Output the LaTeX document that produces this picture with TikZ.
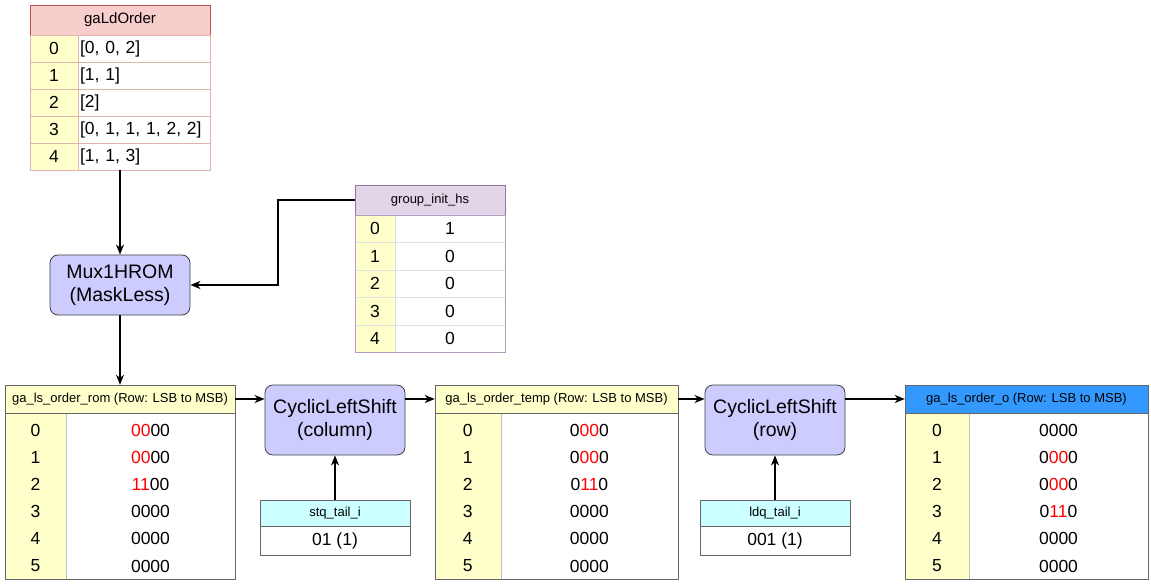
\documentclass[tikz,border=0pt]{standalone}
\usepackage{fontspec}
\setmainfont{Liberation Sans}
\usetikzlibrary{arrows.meta}
\definecolor{hdrpink}{HTML}{F8CECC}
\definecolor{linepink}{HTML}{B85450}
\definecolor{hdrlilac}{HTML}{E1D5E7}
\definecolor{linelilac}{HTML}{9673A6}
\definecolor{idxyellow}{HTML}{FFFFCC}
\definecolor{hdrcyan}{HTML}{CCFFFF}
\definecolor{hdrblue}{HTML}{3399FF}
\definecolor{blkfill}{HTML}{CCCCFF}
\def\bodyfont{\fontsize{17.5}{20}\selectfont}
\def\hdrfont{\fontsize{13}{15}\selectfont}
\def\blkfont{\fontsize{19.5}{23}\selectfont}
\def\rd#1{\textcolor{red}{#1}}
\tikzset{
  cell/.style={rectangle, inner sep=0pt, font=\bodyfont},
  hdr/.style={rectangle, inner sep=0pt, font=\hdrfont, draw=black!60},
  blk/.style={rectangle, rounded corners=8pt, fill=blkfill, draw=black!75, line width=0.8pt,
    minimum width=140pt, align=center, font=\blkfont},
  arr/.style={line width=1.3pt, -{Stealth[length=10pt, width=8pt, inset=3pt]}}
}

\begin{document}
\begin{tikzpicture}[x=1pt, y=-1pt]
			%%%%% START %%%%%
			\useasboundingbox (0, 0) rectangle (1151, 585);

			% gaLdOrder
			\node[hdr, fill=hdrpink, draw=linepink, minimum width=180pt, minimum height=30pt, font=\fontsize{15}{17}\selectfont] (galh) at (120, 20) {gaLdOrder};
			\node[cell, fill=idxyellow, draw=linepink!45, minimum width=48pt, minimum height=27pt] (gal0i) at (54, 48.5) {0};
			\node[cell, draw=linepink!45, minimum height=27pt, text width=128pt, inner xsep=2pt, align=left] (gal0v) at (144, 48.5) {[0, 0, 2]};
			\node[cell, fill=idxyellow, draw=linepink!45, minimum width=48pt, minimum height=27pt] (gal1i) at (54, 75.5) {1};
			\node[cell, draw=linepink!45, minimum height=27pt, text width=128pt, inner xsep=2pt, align=left] (gal1v) at (144, 75.5) {[1, 1]};
			\node[cell, fill=idxyellow, draw=linepink!45, minimum width=48pt, minimum height=27pt] (gal2i) at (54, 102.5) {2};
			\node[cell, draw=linepink!45, minimum height=27pt, text width=128pt, inner xsep=2pt, align=left] (gal2v) at (144, 102.5) {[2]};
			\node[cell, fill=idxyellow, draw=linepink!45, minimum width=48pt, minimum height=27pt] (gal3i) at (54, 129.5) {3};
			\node[cell, draw=linepink!45, minimum height=27pt, text width=128pt, inner xsep=2pt, align=left] (gal3v) at (144, 129.5) {[0, 1, 1, 1, 2, 2]};
			\node[cell, fill=idxyellow, draw=linepink!45, minimum width=48pt, minimum height=27pt] (gal4i) at (54, 156.5) {4};
			\node[cell, draw=linepink!45, minimum height=27pt, text width=128pt, inner xsep=2pt, align=left] (gal4v) at (144, 156.5) {[1, 1, 3]};

			% group_init_hs
			\node[hdr, fill=hdrlilac, draw=linelilac, minimum width=150pt, minimum height=30pt] (gih) at (430, 200) {group\_init\_hs};
			\node[cell, fill=idxyellow, draw=black!12, minimum width=40pt, minimum height=27.5pt] (gih0i) at (375, 228.75) {0};
			\node[cell, draw=black!12, minimum width=110pt, minimum height=27.5pt] (gih0v) at (450, 228.75) {1};
			\node[cell, fill=idxyellow, draw=black!12, minimum width=40pt, minimum height=27.5pt] (gih1i) at (375, 256.25) {1};
			\node[cell, draw=black!12, minimum width=110pt, minimum height=27.5pt] (gih1v) at (450, 256.25) {0};
			\node[cell, fill=idxyellow, draw=black!12, minimum width=40pt, minimum height=27.5pt] (gih2i) at (375, 283.75) {2};
			\node[cell, draw=black!12, minimum width=110pt, minimum height=27.5pt] (gih2v) at (450, 283.75) {0};
			\node[cell, fill=idxyellow, draw=black!12, minimum width=40pt, minimum height=27.5pt] (gih3i) at (375, 311.25) {3};
			\node[cell, draw=black!12, minimum width=110pt, minimum height=27.5pt] (gih3v) at (450, 311.25) {0};
			\node[cell, fill=idxyellow, draw=black!12, minimum width=40pt, minimum height=27.5pt] (gih4i) at (375, 338.75) {4};
			\node[cell, draw=black!12, minimum width=110pt, minimum height=27.5pt] (gih4v) at (450, 338.75) {0};
			\node[draw=linelilac!70, minimum width=150pt, minimum height=137.5pt, inner sep=0pt] (gihb) at (430, 283.75) {};

			\node[blk, minimum height=60pt] (mux) at (120, 285) {Mux1HROM\\(MaskLess)};

			% ga_ls_order_rom
			\node[hdr, fill=idxyellow, minimum width=230pt, minimum height=28pt] (romh) at (120, 399) {ga\_ls\_order\_rom (Row: LSB to MSB)};
			\node[fill=idxyellow, draw=black!25, minimum width=61pt, minimum height=166pt, inner sep=0pt] (romi) at (35.5, 496) {};
			\node[draw=black!60, minimum width=230pt, minimum height=166pt, inner sep=0pt] (romb) at (120, 496) {};
			\node[cell] (rom0i) at (35.5, 430) {0};   \node[cell] (rom0v) at (150.5, 430) {\rd{00}00};
			\node[cell] (rom1i) at (35.5, 457.2) {1}; \node[cell] (rom1v) at (150.5, 457.2) {\rd{00}00};
			\node[cell] (rom2i) at (35.5, 484.4) {2}; \node[cell] (rom2v) at (150.5, 484.4) {\rd{11}00};
			\node[cell] (rom3i) at (35.5, 511.6) {3}; \node[cell] (rom3v) at (150.5, 511.6) {0000};
			\node[cell] (rom4i) at (35.5, 538.8) {4}; \node[cell] (rom4v) at (150.5, 538.8) {0000};
			\node[cell] (rom5i) at (35.5, 566) {5};   \node[cell] (rom5v) at (150.5, 566) {0000};

			\node[blk, minimum height=70pt] (clscol) at (335, 420) {CyclicLeftShift\\(column)};
			\node[hdr, fill=hdrcyan, minimum width=150pt, minimum height=26pt] (stq) at (335, 513) {stq\_tail\_i};
			\node[cell, draw=black!60, minimum width=150pt, minimum height=29.5pt] (stqv) at (335, 540.75) {01 (1)};

			% ga_ls_order_temp
			\node[hdr, fill=idxyellow, minimum width=243pt, minimum height=28pt] (tmph) at (556.5, 399) {ga\_ls\_order\_temp (Row: LSB to MSB)};
			\node[fill=idxyellow, draw=black!25, minimum width=65.7pt, minimum height=166pt, inner sep=0pt] (tmpi) at (467.85, 496) {};
			\node[draw=black!60, minimum width=243pt, minimum height=166pt, inner sep=0pt] (tmpb) at (556.5, 496) {};
			\node[cell] (tmp0i) at (467.8, 430) {0};   \node[cell] (tmp0v) at (589.4, 430) {0\rd{00}0};
			\node[cell] (tmp1i) at (467.8, 457.2) {1}; \node[cell] (tmp1v) at (589.4, 457.2) {0\rd{00}0};
			\node[cell] (tmp2i) at (467.8, 484.4) {2}; \node[cell] (tmp2v) at (589.4, 484.4) {0\rd{11}0};
			\node[cell] (tmp3i) at (467.8, 511.6) {3}; \node[cell] (tmp3v) at (589.4, 511.6) {0000};
			\node[cell] (tmp4i) at (467.8, 538.8) {4}; \node[cell] (tmp4v) at (589.4, 538.8) {0000};
			\node[cell] (tmp5i) at (467.8, 566) {5};   \node[cell] (tmp5v) at (589.4, 566) {0000};

			\node[blk, minimum height=70pt] (clsrow) at (775, 420) {CyclicLeftShift\\(row)};
			\node[hdr, fill=hdrcyan, minimum width=150pt, minimum height=26pt] (ldq) at (775, 513) {ldq\_tail\_i};
			\node[cell, draw=black!60, minimum width=150pt, minimum height=29.5pt] (ldqv) at (775, 540.75) {001 (1)};

			% ga_ls_order_o
			\node[hdr, fill=hdrblue, minimum width=243pt, minimum height=28pt] (outh) at (1026.5, 399) {ga\_ls\_order\_o (Row: LSB to MSB)};
			\node[fill=idxyellow, draw=black!25, minimum width=64pt, minimum height=166pt, inner sep=0pt] (outi) at (937, 496) {};
			\node[draw=black!60, minimum width=243pt, minimum height=166pt, inner sep=0pt] (outb) at (1026.5, 496) {};
			\node[cell] (out0i) at (937, 430) {0};   \node[cell] (out0v) at (1058.5, 430) {0000};
			\node[cell] (out1i) at (937, 457.2) {1}; \node[cell] (out1v) at (1058.5, 457.2) {0\rd{00}0};
			\node[cell] (out2i) at (937, 484.4) {2}; \node[cell] (out2v) at (1058.5, 484.4) {0\rd{00}0};
			\node[cell] (out3i) at (937, 511.6) {3}; \node[cell] (out3v) at (1058.5, 511.6) {0\rd{11}0};
			\node[cell] (out4i) at (937, 538.8) {4}; \node[cell] (out4v) at (1058.5, 538.8) {0000};
			\node[cell] (out5i) at (937, 566) {5};   \node[cell] (out5v) at (1058.5, 566) {0000};

			% connectors
			\coordinate (bend) at (278, 0);
			\draw[arr] (mux |- gal4v.south) -- (mux.north);
			\draw[arr] (gih.west) -| (bend |- mux.east) -- (mux.east);
			\draw[arr] (mux.south) -- (romh.north);
			\draw[arr] (romh.east) -- (romh.east -| clscol.west);
			\draw[arr] (tmph.west -| clscol.east) -- (tmph.west);
			\draw[arr] (tmph.east) -- (tmph.east -| clsrow.west);
			\draw[arr] (outh.west -| clsrow.east) -- (outh.west);
			\draw[arr] (stq.north) -- (clscol.south);
			\draw[arr] (ldq.north) -- (clsrow.south);

			%%%%% END %%%%%
		\end{tikzpicture}
\end{document}
